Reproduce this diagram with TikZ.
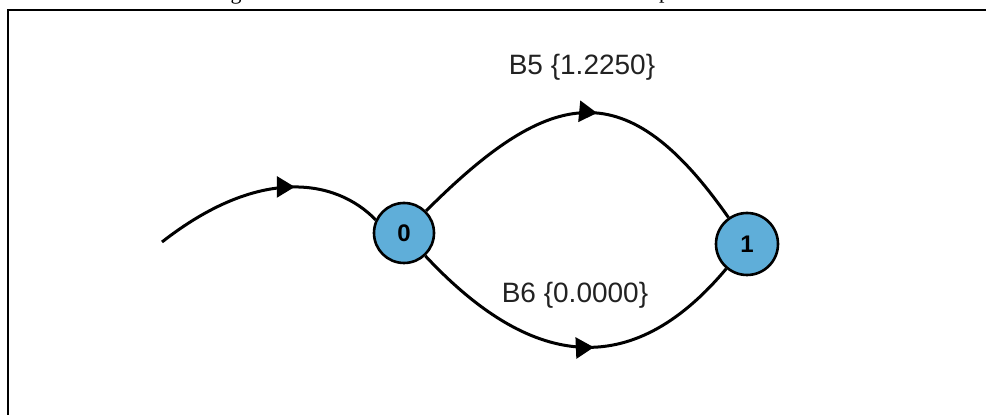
\documentclass[tikz,border=0pt]{standalone}
\usepackage{fontspec}
\setmainfont{Liberation Serif}
\newfontfamily\arialfont{Liberation Sans}
\usetikzlibrary{arrows.meta,decorations.markings}
\definecolor{nodeblue}{RGB}{95,174,217}
\definecolor{labelgray}{RGB}{34,34,34}

\begin{document}
\begin{tikzpicture}[x=1pt,y=1pt,
  state/.style={circle,draw=black,line width=2.6pt,fill=nodeblue,inner sep=0pt,
    font=\arialfont\fontsize{24}{24}\selectfont\bfseries},
  flow/.style={line width=3pt,postaction={decorate},
    decoration={markings,mark=at position #1 with {\arrow{Triangle[length=18pt,width=21pt]}}}},
  flow/.default=0.5,
  lbl/.style={font=\arialfont\fontsize{28}{28}\selectfont,text=labelgray,inner sep=0pt},
  capfrag/.style={font=\fontsize{22}{22}\selectfont,inner sep=0pt}
]
\useasboundingbox (0,0) rectangle (986,415);

% caption line above the frame (only its descenders reach the page)
\node[capfrag,anchor=base] (capg) at (236,415.5) {g};
\node[capfrag,anchor=base west] (capp) at (659,416.5) {p};

% frame
\draw[line width=2pt] (8,-20) -- (8,404.5) -- (1000,404.5);

% states
\node[state,minimum size=60pt] (n0) at (404,182) {0};
\node[state,minimum size=62pt] (n1) at (747,171) {1};

% incoming edge
\coordinate (s) at (162,173);
\draw[flow=0.62] (s) .. controls (258.5,248.5) and (335.3,236.7) .. (n0.155);

% transitions
\draw[flow=0.54] (n0) to[out=45,in=125,looseness=1.5] (n1);
\draw[flow=0.555] (n0) to[out=-47,in=-130,looseness=1.28] (n1);

% labels
\node[lbl,anchor=base] (l5) at (582,340) {B5 \{1.2250\}};
\node[lbl,anchor=base] (l6) at (575,112) {B6 \{0.0000\}};
\end{tikzpicture}
\end{document}
